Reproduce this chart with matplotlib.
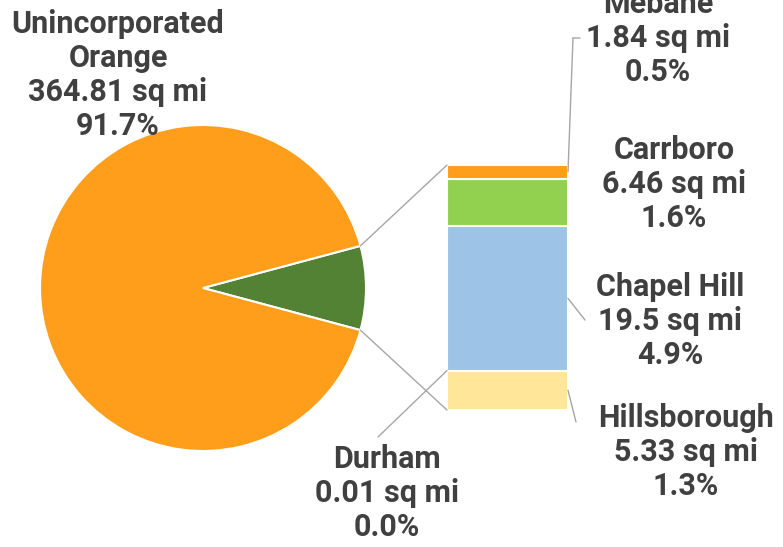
import matplotlib
matplotlib.use("Agg")
import matplotlib.pyplot as plt
from matplotlib.patches import ConnectionPatch
import numpy as np

# ---- data ----
pie_labels = ["Other", "Unincorporated Orange"]
pie_values = [33.14, 364.81]
pie_colors = ["#548235", "#FF9E1B"]

bar_labels = ["Hillsborough", "Durham", "Chapel Hill", "Carrboro", "Mebane"]
bar_values = [5.33, 0.01, 19.5, 6.46, 1.84]
bar_pcts = ["1.3%", "0.0%", "4.9%", "1.6%", "0.5%"]
bar_colors = ["#FFE699", "#ED7D31", "#9DC3E6", "#92D050", "#FF9E1B"]

W, H = 783, 547
fig = plt.figure(figsize=(W / 100, H / 100), dpi=100)
TXT = "#404040"
GREY = "#A6A6A6"
FONT = ["Roboto", "DejaVu Sans"]


def fx(px):
    return px / W


def fy(py):
    return 1 - py / H


# ---- pie ----
cx, cy, r = 203, 288, 163
ax_pie = fig.add_axes([fx(cx - r), fy(cy + r), 2 * r / W, 2 * r / H])
total = sum(pie_values)
other_angle = pie_values[0] / total * 360
wedges, _ = ax_pie.pie(pie_values, colors=pie_colors, startangle=-other_angle / 2,
                       counterclock=True, radius=1,
                       wedgeprops=dict(edgecolor="white", linewidth=1.5))
ax_pie.set_xlim(-1, 1)
ax_pie.set_ylim(-1, 1)
ax_pie.set_aspect("equal")
ax_pie.axis("off")

# ---- bar ----
bx0, bx1, by0, by1 = 447, 568, 165, 410
ax_bar = fig.add_axes([fx(bx0), fy(by1), (bx1 - bx0) / W, (by1 - by0) / H])
bottom = 0
bottoms = []
for v, c in zip(bar_values, bar_colors):
    ax_bar.bar(0, v, width=1, bottom=bottom, color=c, edgecolor="white", linewidth=1.5)
    bottoms.append(bottom)
    bottom += v
bar_total = bottom
ax_bar.set_xlim(-0.5, 0.5)
ax_bar.set_ylim(0, bar_total)
ax_bar.axis("off")

# ---- connectors pie -> bar ----
th = np.deg2rad(other_angle / 2)
for sgn, ybar in [(1, bar_total), (-1, 0)]:
    con = ConnectionPatch(xyA=(np.cos(th), sgn * np.sin(th)), coordsA=ax_pie.transData,
                          xyB=(-0.5, ybar), coordsB=ax_bar.transData,
                          color=GREY, linewidth=1)
    fig.add_artist(con)


def label(x, y, lines, size=22):
    fig.text(fx(x), fy(y), "\n".join(lines), ha="center", va="center",
             fontsize=size, fontweight="bold", color=TXT, family=FONT,
             linespacing=1.16)


label(118, 75, ["Unincorporated", "Orange", "364.81 sq mi", "91.7%"])

lab_pos = {
    "Mebane": (658, 38),
    "Carrboro": (674, 184),
    "Chapel Hill": (670, 321),
    "Hillsborough": (686, 452),
    "Durham": (387, 493),
}
for name, v, p in zip(bar_labels, bar_values, bar_pcts):
    x, y = lab_pos[name]
    label(x, y, [name, f"{v:g} sq mi", p])


def leader(seg_idx, side, fig_pts):
    ymid = bottoms[seg_idx] + bar_values[seg_idx] / 2
    xs = 0.5 if side == "right" else -0.5
    prev = (xs, ymid)
    prev_coords = ax_bar.transData
    for a, b in fig_pts:
        p = (fx(a), fy(b))
        con = ConnectionPatch(xyA=prev, coordsA=prev_coords, xyB=p, coordsB=fig.transFigure,
                              color=GREY, linewidth=1)
        fig.add_artist(con)
        prev = p
        prev_coords = fig.transFigure


leader(4, "right", [(573, 38), (580, 38)])
leader(2, "right", [(585, 320)])
leader(0, "right", [(576, 422)])
leader(1, "left", [(378, 437)])

fig.savefig("out.png", dpi=100)
